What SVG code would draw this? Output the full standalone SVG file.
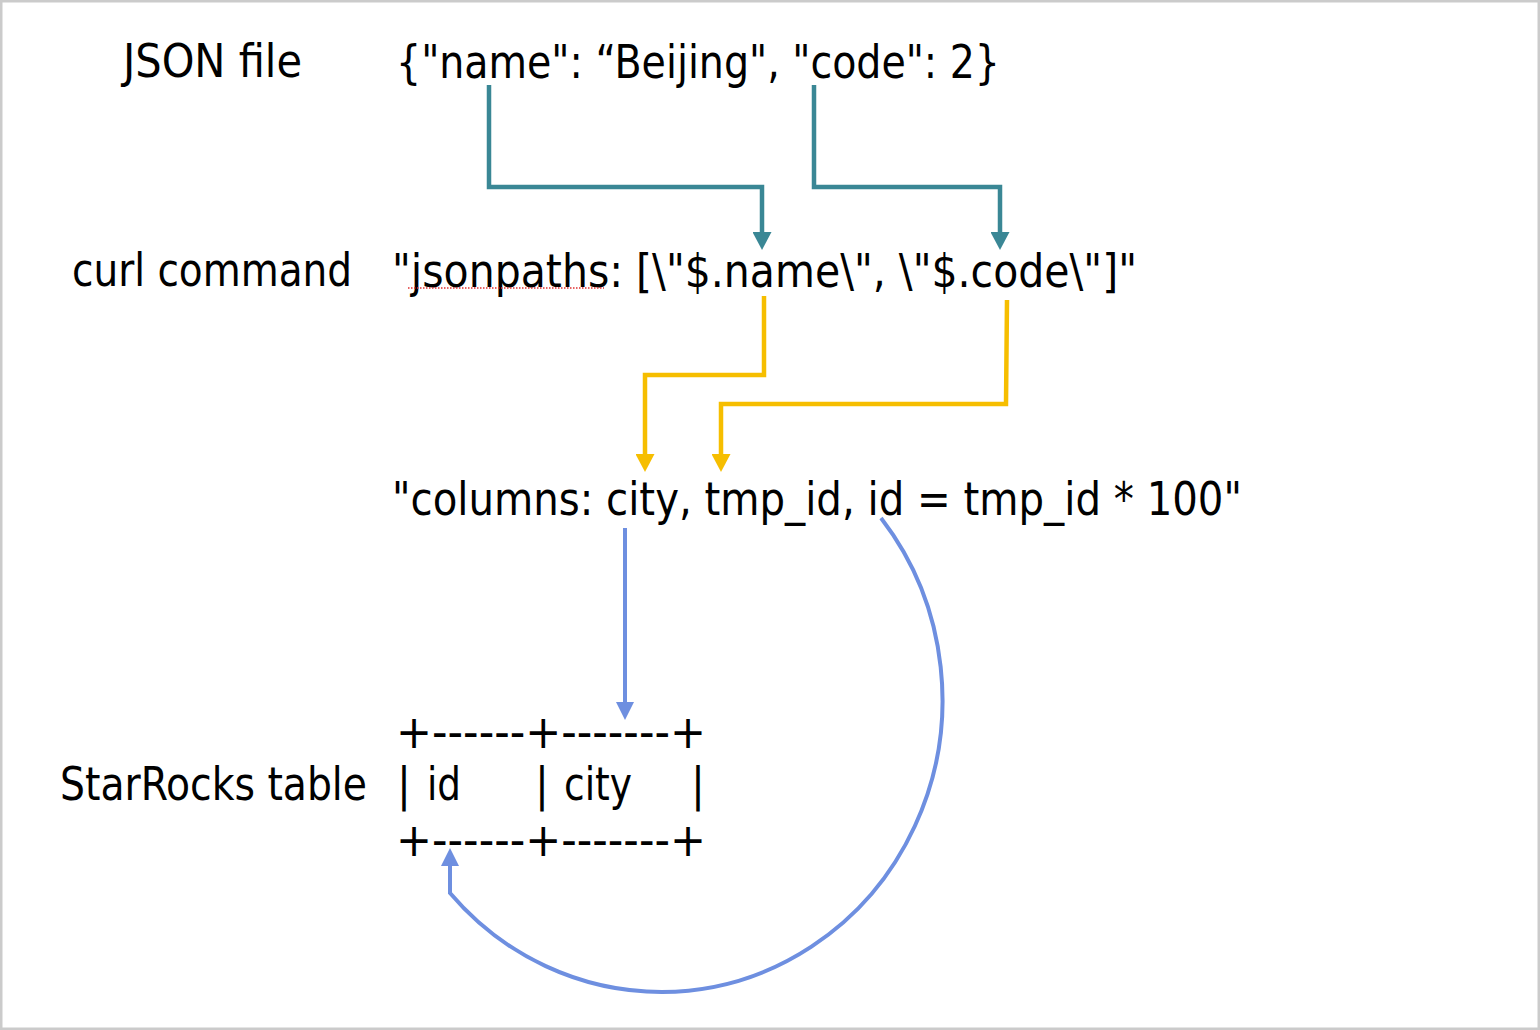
<svg xmlns="http://www.w3.org/2000/svg" width="1540" height="1030" viewBox="0 0 1540 1030">
<defs>
<style>
text{font-family:"DejaVu Sans Condensed","DejaVu Sans","Liberation Sans",sans-serif;font-stretch:condensed;font-size:46px;fill:#000}
.teal{fill:none;stroke:#3a8795;stroke-width:4.5}
.yel{fill:none;stroke:#f6be00;stroke-width:4.5}
.blue{fill:none;stroke:#6e8fe0;stroke-width:4}
</style>
<marker id="aT" viewBox="0 0 10 10" refX="0" refY="5" markerWidth="18" markerHeight="19" markerUnits="userSpaceOnUse" orient="auto" preserveAspectRatio="none"><path d="M0,0 L10,5 L0,10 Z" fill="#3a8795"/></marker>
<marker id="aY" viewBox="0 0 10 10" refX="0" refY="5" markerWidth="18" markerHeight="19" markerUnits="userSpaceOnUse" orient="auto" preserveAspectRatio="none"><path d="M0,0 L10,5 L0,10 Z" fill="#f6be00"/></marker>
<marker id="aB" viewBox="0 0 10 10" refX="0" refY="5" markerWidth="18" markerHeight="18" markerUnits="userSpaceOnUse" orient="auto" preserveAspectRatio="none"><path d="M0,0 L10,5 L0,10 Z" fill="#6e8fe0"/></marker>
</defs>
<rect x="1" y="1" width="1538" height="1028" fill="#fff" stroke="#cbcbcb" stroke-width="3"/>
<g id="label-json"><text x="123" y="77" textLength="179" lengthAdjust="spacingAndGlyphs">JSON file</text></g>
<g id="json-content"><text x="396" y="78" textLength="604" lengthAdjust="spacingAndGlyphs">{"name": “Beijing", "code": 2}</text></g>
<g id="label-curl"><text x="72" y="286" textLength="280" lengthAdjust="spacingAndGlyphs">curl command</text></g>
<g id="jsonpaths"><text x="392" y="287" textLength="745" lengthAdjust="spacingAndGlyphs">"jsonpaths: [\"$.name\", \"$.code\"]"</text>
<line x1="408" y1="288" x2="604" y2="288" stroke="#e03030" stroke-width="1.5" stroke-dasharray="1.5 1.5"/></g>
<g id="columns"><text x="392" y="515" textLength="850" lengthAdjust="spacingAndGlyphs">"columns: city, tmp_id, id = tmp_id * 100"</text></g>
<g id="label-table"><text x="60" y="800" textLength="307" lengthAdjust="spacingAndGlyphs">StarRocks table</text></g>
<g id="table">
<text x="396" y="748" textLength="310" lengthAdjust="spacingAndGlyphs">+------+-------+</text>
<text x="397" y="800">|</text>
<text x="427" y="800" textLength="34" lengthAdjust="spacingAndGlyphs">id</text>
<text x="535" y="800">|</text>
<text x="564" y="800" textLength="68" lengthAdjust="spacingAndGlyphs">city</text>
<text x="691" y="800">|</text>
<text x="396" y="856" textLength="310" lengthAdjust="spacingAndGlyphs">+------+-------+</text>
</g>
<g id="connectors">
<path class="teal" d="M489,85 V187 H762 V232" marker-end="url(#aT)"/>
<path class="teal" d="M814,85 V187 H1000 V232" marker-end="url(#aT)"/>
<path class="yel" d="M764,296 V375 H645 V454" marker-end="url(#aY)"/>
<path class="yel" d="M1007,300 L1006,404 H721 V454" marker-end="url(#aY)"/>
<path class="blue" d="M625,528 V702" marker-end="url(#aB)"/>
<path class="blue" d="M881,518 A282,292 0 0 1 662,992 A282,292 0 0 1 450,893 V866" marker-end="url(#aB)"/>
</g>
</svg>
